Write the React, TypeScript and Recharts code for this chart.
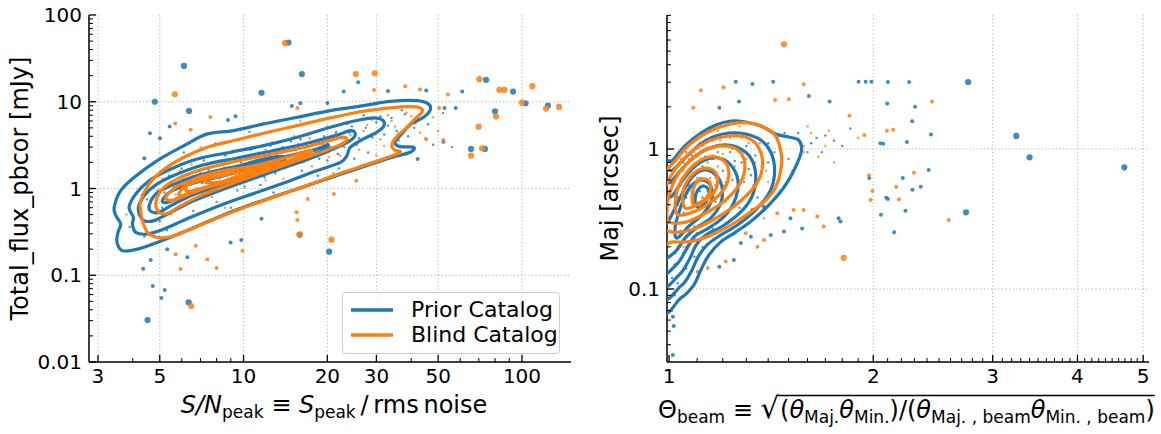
import React, { useLayoutEffect, useRef, useState } from 'react';
import { ScatterChart, Scatter, XAxis, YAxis, ReferenceLine, Legend } from 'recharts';

const FONT = "'DejaVu Sans', 'Liberation Sans', sans-serif";
const BLUE = '#1f77b4';
const ORANGE = '#ff7f0e';

type Pt = [number, number];

// ---------------- Left panel: axes ----------------
const snDomain: [number, number] = [2.785, 150];
const fluxDomain: [number, number] = [0.01, 100];
const snMajor = [3, 5, 10, 20, 30, 50, 100];
const snMinor = [4, 6, 7, 8, 9, 40, 60, 70, 80, 90];
const fluxMajor = [0.01, 0.1, 1, 10, 100];
const fluxMinor = [0.02, 0.03, 0.04, 0.05, 0.06, 0.07, 0.08, 0.09, 0.2, 0.3, 0.4, 0.5, 0.6, 0.7, 0.8, 0.9, 2, 3, 4, 5, 6, 7, 8, 9, 20, 30, 40, 50, 60, 70, 80, 90];
const snGrid = [3, 5, 10, 20, 30, 50, 100];
const fluxGrid = [0.1, 1, 10];

// ---------------- Left panel: KDE contours (S/N, flux) ----------------
const priorContoursLeft: Pt[][] = [
  [[3.43, 0.607], [3.62, 0.945], [4.05, 1.35], [4.9, 2.1], [6.11, 3.12], [7.41, 4.26], [9.23, 4.65], [11.8, 5.55], [15.6, 6.63], [20.5, 7.91], [27, 9.03], [33.6, 10.1], [41.9, 10.3], [46.1, 9.44], [46.8, 8.05], [44.3, 6.63], [39.7, 5.45], [37, 4.26], [35, 3.41], [36.5, 3.04], [40.8, 2.99], [39.7, 2.62], [33.6, 2.25], [25.5, 1.68], [19.4, 1.25], [14.7, 0.928], [11.2, 0.693], [8.5, 0.499], [6.46, 0.341], [4.9, 0.239], [4.16, 0.2], [3.67, 0.192], [3.51, 0.239], [3.54, 0.312], [3.62, 0.39], [3.48, 0.487]],
  [[3.88, 0.607], [4.1, 0.865], [4.58, 1.23], [5.48, 1.68], [6.82, 2.19], [8.98, 2.62], [11.8, 3.12], [15.6, 3.9], [20.5, 5.08], [25.5, 6.07], [29.3, 6.51], [31.7, 6.07], [31.8, 5.17], [30.1, 4.45], [27, 3.73], [24.2, 2.99], [23.5, 2.39], [22.3, 2.0], [18.4, 1.61], [14.7, 1.23], [11.2, 0.904], [8.5, 0.663], [6.46, 0.466], [5.18, 0.341], [4.52, 0.299], [4.1, 0.312], [3.99, 0.39], [4.02, 0.466]],
  [[4.19, 0.607], [4.39, 0.827], [4.9, 1.13], [5.78, 1.47], [7.21, 1.88], [9.49, 2.25], [12.5, 2.69], [16.5, 3.26], [21.4, 4.07], [24.2, 4.65], [25.2, 4.26], [24.2, 3.57], [21.7, 2.99], [18.4, 2.39], [14.7, 1.84], [11.2, 1.35], [8.5, 0.987], [6.64, 0.725], [5.48, 0.531], [4.77, 0.426], [4.39, 0.426], [4.25, 0.487]],
  [[4.58, 0.634], [4.84, 0.865], [5.48, 1.08], [6.64, 1.37], [8.5, 1.68], [11.2, 2.0], [14.7, 2.39], [18.4, 2.86], [20.05, 3.2], [19.7, 2.86], [17.4, 2.39], [13.95, 1.84], [10.6, 1.41], [8.05, 1.06], [6.46, 0.827], [5.48, 0.634], [4.97, 0.531], [4.64, 0.546]],
  [[5.11, 0.725], [5.48, 0.928], [6.46, 1.13], [8.05, 1.35], [10.0, 1.61], [12.5, 2.0], [13.95, 2.19], [13.6, 1.92], [11.5, 1.61], [8.98, 1.25], [7.21, 0.987], [5.95, 0.792], [5.33, 0.693]],
  [[9.49, 1.76], [11.2, 2.1], [13.2, 2.33], [14.1, 2.29], [13.6, 2.06], [11.5, 1.84], [9.89, 1.65]],
];
const blindContoursLeft: Pt[][] = [
  [[4.27, 0.725], [4.58, 1.13], [5.11, 1.61], [6.11, 2.29], [7.41, 2.99], [9.23, 3.57], [11.8, 4.33], [15.6, 5.31], [20.5, 6.51], [27, 7.77], [33.6, 8.49], [39.7, 8.79], [43.1, 8.49], [43.7, 7.57], [41.3, 6.34], [38.1, 4.86], [35.5, 3.96], [34.1, 3.2], [34.8, 2.78], [36.5, 2.69], [35.5, 2.5], [29.3, 2.0], [22.3, 1.5], [16.9, 1.08], [12.8, 0.792], [9.75, 0.581], [7.62, 0.426], [6.28, 0.327], [5.48, 0.278], [4.9, 0.273], [4.52, 0.312], [4.33, 0.426], [4.27, 0.556]],
  [[4.84, 0.693], [5.11, 0.987], [5.78, 1.29], [7.01, 1.64], [8.98, 2.0], [11.8, 2.39], [15.6, 2.86], [19.4, 3.41], [22.6, 3.9], [23.5, 3.63], [22.3, 3.2], [19.4, 2.69], [15.6, 2.1], [11.8, 1.54], [8.98, 1.13], [7.01, 0.827], [5.95, 0.634], [5.33, 0.517], [4.97, 0.531]],
  [[5.25, 0.792], [5.7, 1.03], [6.46, 1.23], [8.05, 1.5], [10.3, 1.76], [13.2, 2.13], [16.5, 2.62], [17.6, 2.74], [16.9, 2.46], [13.95, 2.0], [10.6, 1.54], [8.27, 1.18], [6.64, 0.904], [5.78, 0.757], [5.48, 0.725]],
  [[5.86, 0.865], [6.2, 1.08], [7.21, 1.27], [8.98, 1.47], [11.2, 1.68], [13.2, 1.97], [13.75, 1.88], [12.5, 1.68], [10.0, 1.37], [8.05, 1.13], [6.64, 0.945], [6.03, 0.827]],
  [[6.2, 0.987], [6.64, 1.29], [8.05, 1.54], [10.3, 1.76], [12.15, 1.88], [12.5, 1.73], [11.2, 1.5], [8.98, 1.23], [7.41, 1.03], [6.46, 0.928]],
  [[7.31, 1.25], [7.83, 1.5], [8.98, 1.65], [10.6, 1.73], [11.25, 1.64], [10.9, 1.45], [9.49, 1.28], [8.05, 1.18], [7.41, 1.17]],
];

// ---------------- Left panel: sources ----------------
const priorBrightLeft: Pt[] = [[14.5, 48.2], [6.11, 25.9], [16.2, 20.9], [11.6, 12.7], [4.8, 10.0], [6.37, 7.83], [4.52, 0.0304], [6.35, 0.0486], [20.3, 0.187], [15.9, 0.293], [74.3, 17.9], [92.9, 13.1], [103, 9.61], [124, 9.04], [80, 7.77], [73.6, 2.86], [65.6, 2.86]];
const blindBrightLeft: Pt[] = [[14.1, 47.3], [5.66, 12.2], [25.3, 20.9], [29.6, 21.3], [70.3, 18.2], [83, 13.7], [86.5, 13.7], [100, 9.78], [109, 15.1], [122, 8.34], [136, 8.71], [80.7, 6.74], [71.9, 2.91], [65.6, 2.39], [69.9, 5.16], [15.9, 0.296], [20.7, 0.257], [6.49, 0.0441]];
const priorDotsLeft: Pt[] = [[4.61, 4.34], [5.01, 3.79], [4.4, 2.23], [5.43, 5.17], [8.79, 6.17], [9.36, 6.81], [14.9, 8.96], [16.0, 9.61], [20.0, 9.7], [22.9, 13.1], [33.0, 13.3], [45.3, 13.5], [61.0, 13.1], [57.8, 8.49], [52.2, 3.47], [42.2, 2.19], [11.6, 0.449], [9.81, 0.255], [4.64, 0.15], [4.36, 0.119], [5.32, 0.2], [6.28, 0.161], [8.98, 0.239], [52.7, 8.49], [25.8, 16.8], [4.72, 0.075], [5.07, 0.0545], [5.21, 0.0675]];
const blindDotsLeft: Pt[] = [[5.68, 5.6], [6.46, 4.77], [7.6, 6.68], [15.6, 8.49], [29.4, 13.7], [43.0, 13.8], [38.1, 15.1], [54.2, 12.1], [50.4, 8.49], [52.2, 3.63], [45.3, 3.69], [5.7, 0.175], [6.73, 0.219], [7.41, 0.152], [5.94, 0.118], [25.4, 1.23], [21.1, 0.865], [17.0, 0.757], [15.5, 0.531], [15.6, 0.433], [8.0, 0.121], [9.91, 0.192]];
const priorCloudLeft: Pt[] = [[4.2, 0.5], [4.5, 0.75], [4.8, 1.1], [5.0, 0.42], [5.2, 0.9], [5.4, 1.4], [5.6, 0.65], [5.8, 1.05], [6.0, 1.7], [6.2, 0.8], [6.4, 1.25], [6.6, 0.55], [6.8, 1.0], [7.0, 1.5], [7.2, 2.1], [7.4, 0.9], [7.6, 1.2], [7.8, 1.8], [8.0, 0.7], [8.3, 1.4], [8.6, 2.4], [8.9, 1.1], [9.2, 1.7], [9.5, 0.95], [9.8, 2.0], [10.2, 1.3], [10.6, 2.8], [11.0, 1.6], [11.5, 1.1], [12.0, 2.2], [12.5, 3.1], [13.0, 1.5], [13.5, 2.6], [14.0, 1.9], [14.8, 3.5], [15.5, 2.3], [16.2, 1.6], [17.0, 4.1], [18.0, 2.7], [19.0, 3.3], [20.0, 2.1], [21.5, 4.5], [23.0, 3.0], [24.5, 5.2], [26.0, 3.8], [28.0, 2.6], [30.0, 5.8], [32.0, 4.2], [34.0, 6.5], [36.0, 3.6], [38.0, 7.2], [41.0, 5.0], [44.0, 8.1], [48.0, 3.2], [52.0, 7.4], [56.0, 3.0], [3.9, 0.36], [4.4, 0.28], [5.3, 0.33], [6.1, 2.6], [7.9, 3.3], [9.0, 0.6], [12.8, 0.9], [16.5, 5.6], [22.0, 1.7], [27.0, 7.0], [10.5, 4.5], [14.5, 1.2], [18.5, 1.4], [25.0, 2.2],
  [5.1, 0.6], [5.5, 1.15], [5.9, 0.72], [6.3, 1.45], [6.7, 0.78], [7.1, 1.15], [7.5, 1.65], [7.9, 1.0], [8.4, 1.9], [8.8, 1.3], [9.3, 2.2], [9.7, 1.45], [10.1, 1.05], [10.8, 1.9], [11.3, 2.6], [11.9, 1.35], [12.6, 1.8], [13.2, 2.4], [13.8, 3.0], [14.6, 2.0], [15.3, 2.9], [16.0, 3.7], [16.8, 2.5], [17.6, 3.2], [18.7, 2.2], [19.5, 4.0], [20.6, 3.0], [21.8, 2.5], [22.5, 3.8], [24.0, 4.4], [25.5, 3.2], [27.5, 5.0], [29.0, 3.9], [31.0, 6.8], [33.0, 5.3], [35.5, 4.6], [37.0, 8.0], [39.0, 4.0], [42.5, 6.2], [46.0, 5.5]];
const blindCloudLeft: Pt[] = [[4.6, 0.6], [4.9, 0.95], [5.1, 1.3], [5.5, 0.5], [5.7, 0.85], [5.9, 1.6], [6.1, 1.1], [6.3, 0.7], [6.5, 1.9], [6.7, 1.35], [6.9, 0.95], [7.1, 2.3], [7.3, 1.15], [7.5, 1.6], [7.7, 0.8], [8.0, 2.0], [8.2, 1.3], [8.5, 1.75], [8.8, 1.0], [9.1, 2.6], [9.4, 1.45], [9.7, 2.1], [10.0, 1.2], [10.4, 1.8], [10.8, 3.0], [11.2, 1.4], [11.7, 2.4], [12.2, 1.7], [12.7, 3.4], [13.3, 2.0], [13.9, 1.3], [14.5, 2.8], [15.2, 4.0], [15.9, 2.2], [16.8, 3.1], [17.6, 1.8], [18.6, 4.6], [19.6, 2.9], [20.8, 3.7], [22.2, 2.4], [23.6, 5.5], [25.2, 3.4], [27.0, 4.6], [29.0, 6.2], [31.0, 3.7], [33.0, 7.0], [35.0, 5.2], [37.5, 3.0], [40.0, 6.8], [43.0, 4.4], [46.0, 7.6], [50.0, 4.6], [3.8, 0.5], [4.3, 0.85], [6.0, 0.42], [7.0, 3.0], [8.6, 0.6], [11.0, 4.2], [13.0, 0.85], [16.0, 6.0], [21.0, 1.5], [26.0, 7.8], [30.0, 2.4], [12.0, 2.8], [9.6, 3.6], [20.0, 5.2],
  [5.3, 0.75], [5.6, 1.05], [6.0, 1.4], [6.4, 0.9], [6.8, 1.6], [7.2, 1.05], [7.6, 1.35], [8.1, 1.6], [8.5, 1.2], [8.9, 2.0], [9.3, 1.6], [9.8, 1.35], [10.3, 2.3], [10.9, 1.55], [11.4, 2.0], [12.0, 1.25], [12.6, 2.2], [13.1, 1.6], [13.7, 2.6], [14.3, 1.9], [15.0, 2.4], [15.7, 3.3], [16.4, 2.0], [17.3, 3.8], [18.2, 2.6], [19.2, 3.3], [20.3, 2.3], [21.4, 4.3], [22.8, 3.1], [24.2, 4.1], [26.0, 2.8], [27.8, 5.4], [29.8, 4.2], [32.0, 3.1], [34.0, 6.0], [36.0, 4.3], [38.5, 7.5], [41.5, 5.6], [45.0, 3.8], [48.0, 6.6]];

// ---------------- Right panel: axes ----------------
const thetaDomain: [number, number] = [0.993, 5.1];
const majDomain: [number, number] = [0.0301, 9.06];
const thetaMajor = [1, 2, 3, 4, 5];
const thetaMinor = [1.1, 1.2, 1.3, 1.4, 1.5, 1.6, 1.7, 1.8, 1.9, 2.1, 2.2, 2.3, 2.4, 2.5, 2.6, 2.7, 2.8, 2.9, 3.1, 3.2, 3.3, 3.4, 3.5, 3.6, 3.7, 3.8, 3.9, 4.1, 4.2, 4.3, 4.4, 4.5, 4.6, 4.7, 4.8, 4.9];
const majMajor = [0.1, 1];
const majMinor = [0.04, 0.05, 0.06, 0.07, 0.08, 0.09, 0.2, 0.3, 0.4, 0.5, 0.6, 0.7, 0.8, 0.9, 2, 3, 4, 5, 6, 7, 8, 9];
const thetaGrid = [2, 3, 4, 5];
const majGrid = [0.1, 1];

// ---------------- Right panel: KDE contours (Theta_beam, Maj) ----------------
const priorContoursRight: Pt[][] = [
  [[0.973, 0.0756], [1.041, 0.0863], [1.088, 0.107], [1.114, 0.137], [1.145, 0.175], [1.192, 0.217], [1.254, 0.255], [1.328, 0.311], [1.412, 0.411], [1.485, 0.553], [1.541, 0.769], [1.568, 0.984], [1.552, 1.16], [1.5, 1.218], [1.436, 1.28], [1.365, 1.46], [1.297, 1.56], [1.233, 1.585], [1.172, 1.484], [1.114, 1.301], [1.059, 1.068], [1.0136, 0.835], [0.973, 0.652]],
  [[0.973, 0.0936], [1.041, 0.105], [1.077, 0.132], [1.103, 0.169], [1.137, 0.206], [1.192, 0.243], [1.267, 0.291], [1.351, 0.379], [1.412, 0.51], [1.431, 0.708], [1.412, 0.952], [1.365, 1.16], [1.297, 1.28], [1.225, 1.301], [1.16, 1.218], [1.107, 1.068], [1.0556, 0.862], [1.0136, 0.708], [0.973, 0.6]],
  [[0.973, 0.112], [1.0344, 0.126], [1.07, 0.161], [1.096, 0.206], [1.133, 0.243], [1.2, 0.282], [1.276, 0.355], [1.328, 0.469], [1.342, 0.652], [1.32, 0.862], [1.267, 1.017], [1.2, 1.068], [1.137, 1.0], [1.085, 0.862], [1.041, 0.708], [1.0068, 0.581], [0.973, 0.493]],
  [[0.973, 0.134], [1.0274, 0.151], [1.063, 0.196], [1.092, 0.239], [1.145, 0.273], [1.212, 0.338], [1.254, 0.447], [1.263, 0.6], [1.233, 0.769], [1.184, 0.862], [1.129, 0.835], [1.085, 0.732], [1.048, 0.6], [1.0136, 0.469], [0.973, 0.379]],
  [[0.973, 0.164], [1.0205, 0.184], [1.0556, 0.231], [1.096, 0.273], [1.152, 0.321], [1.192, 0.411], [1.196, 0.544], [1.168, 0.663], [1.126, 0.708], [1.085, 0.641], [1.0556, 0.526], [1.0274, 0.405], [1.0, 0.311], [0.973, 0.255]],
  [[1.0274, 0.231], [1.07, 0.282], [1.122, 0.343], [1.156, 0.432], [1.152, 0.544], [1.122, 0.6], [1.085, 0.562], [1.0556, 0.462], [1.0344, 0.355], [1.0205, 0.273]],
  [[1.107, 0.379], [1.137, 0.432], [1.145, 0.501], [1.126, 0.544], [1.103, 0.51], [1.092, 0.432]],
];
const blindContoursRight: Pt[][] = [
  [[0.973, 0.224], [1.0136, 0.217], [1.085, 0.22], [1.172, 0.251], [1.267, 0.311], [1.374, 0.411], [1.436, 0.535], [1.465, 0.769], [1.46, 0.984], [1.436, 1.238], [1.388, 1.413], [1.32, 1.534], [1.233, 1.509], [1.141, 1.323], [1.07, 1.068], [1.024, 0.835], [0.973, 0.581]],
  [[0.973, 0.287], [1.0136, 0.255], [1.077, 0.264], [1.16, 0.311], [1.254, 0.398], [1.342, 0.553], [1.374, 0.769], [1.351, 1.051], [1.297, 1.218], [1.225, 1.238], [1.145, 1.141], [1.077, 0.952], [1.024, 0.732], [0.99, 0.553], [0.973, 0.469]],
  [[1.0, 0.301], [1.059, 0.301], [1.133, 0.349], [1.212, 0.432], [1.276, 0.581], [1.293, 0.794], [1.263, 0.984], [1.2, 1.051], [1.133, 0.984], [1.077, 0.835], [1.0274, 0.641], [1.0, 0.469], [0.993, 0.367]],
  [[1.0274, 0.343], [1.085, 0.355], [1.152, 0.418], [1.208, 0.526], [1.225, 0.685], [1.2, 0.835], [1.145, 0.877], [1.092, 0.781], [1.048, 0.621], [1.024, 0.469]],
  [[1.0556, 0.379], [1.107, 0.405], [1.16, 0.477], [1.18, 0.6], [1.16, 0.708], [1.114, 0.72], [1.074, 0.631], [1.048, 0.493]],
  [[1.085, 0.405], [1.126, 0.432], [1.152, 0.518], [1.141, 0.6], [1.107, 0.6], [1.085, 0.51]],
];

// ---------------- Right panel: sources ----------------
const priorBrightRight: Pt[] = [[2.76, 3.01], [3.25, 1.24], [3.4, 0.872], [4.69, 0.74], [2.74, 0.353]];
const blindBrightRight: Pt[] = [[1.477, 5.6], [1.809, 0.167]];
const priorDotsRight: Pt[] = [[1.254, 3.02], [1.327, 2.91], [1.424, 3.02], [1.903, 3.02], [1.949, 3.02], [1.987, 3.02], [2.102, 3.01], [2.259, 3.01], [1.186, 1.97], [1.268, 2.18], [1.607, 2.39], [1.725, 2.18], [2.097, 2.11], [2.305, 2.0], [2.282, 1.58], [2.433, 1.27], [2.069, 1.09], [2.242, 1.12], [2.414, 0.708], [2.211, 0.621], [1.973, 0.621], [2.285, 0.512], [2.35, 0.538], [2.09, 0.449], [2.102, 0.439], [2.053, 0.339], [2.231, 0.362], [2.147, 0.254], [2.048, 1.098], [1.013, 0.0634], [1.016, 0.0544], [1.013, 0.0338], [1.327, 0.367], [1.379, 0.387], [1.412, 0.243], [1.32, 0.236], [1.276, 0.213], [1.186, 0.144], [1.246, 0.161], [1.778, 0.32], [1.789, 0.303], [1.571, 0.271], [1.477, 0.257], [1.51, 0.32]];
const blindDotsRight: Pt[] = [[1.086, 1.97], [1.114, 2.63], [1.203, 2.76], [1.58, 2.9], [1.433, 2.24], [1.502, 2.27], [1.845, 1.73], [1.94, 1.26], [2.095, 1.35], [2.14, 1.37], [2.442, 2.18], [2.296, 0.677], [1.971, 0.649], [2.162, 0.535], [1.995, 0.501], [1.982, 0.432], [2.182, 0.437], [2.584, 0.311], [1.14, 0.141], [1.102, 0.133], [1.212, 0.157], [1.35, 0.2], [1.297, 0.25], [1.38, 0.224], [1.444, 0.347], [1.526, 0.367], [1.579, 0.367], [1.654, 0.329], [1.69, 0.279]];
const priorCloudRight: Pt[] = [[1.02, 0.15], [1.03, 0.2], [1.01, 0.12], [1.04, 0.26], [1.05, 0.35], [1.06, 0.45], [1.07, 0.55], [1.08, 0.3], [1.09, 0.65], [1.1, 0.4], [1.11, 0.5], [1.12, 0.75], [1.13, 0.35], [1.14, 0.6], [1.15, 0.45], [1.16, 0.85], [1.17, 0.55], [1.18, 0.3], [1.2, 0.7], [1.21, 0.42], [1.23, 0.95], [1.24, 0.6], [1.26, 0.5], [1.28, 0.8], [1.3, 1.05], [1.32, 0.65], [1.34, 0.9], [1.37, 0.75], [1.4, 1.1], [1.43, 0.95], [1.02, 0.09], [1.01, 0.07], [1.03, 0.11], [1.05, 0.18], [1.07, 0.22], [1.1, 0.25], [1.12, 0.2], [1.06, 0.14], [1.15, 1.0], [1.19, 1.2], [1.25, 1.3], [1.08, 0.9], [1.04, 0.7], [1.35, 0.45], [1.45, 0.6], [1.5, 0.85], [1.55, 1.15], [1.6, 0.95], [1.48, 1.3], [1.65, 1.2], [1.55, 1.3], [1.62, 1.1], [1.7, 1.25], [1.8, 1.05], [1.85, 1.4], [1.68, 0.95], [1.75, 1.15],
  [1.02, 0.3], [1.03, 0.45], [1.04, 0.6], [1.05, 0.8], [1.06, 0.95], [1.07, 0.38], [1.08, 0.5], [1.09, 0.28], [1.1, 0.78], [1.11, 0.62], [1.12, 0.45], [1.13, 0.88], [1.14, 0.4], [1.15, 0.7], [1.17, 0.42], [1.18, 0.95], [1.2, 0.55], [1.22, 0.62], [1.25, 0.82], [1.27, 0.38], [1.29, 0.58], [1.31, 0.72], [1.36, 0.62], [1.4, 0.8], [1.02, 0.18], [1.04, 0.13], [1.06, 0.2], [1.09, 0.17], [1.13, 0.23], [1.16, 0.27]];
const blindCloudRight: Pt[] = [[1.03, 0.4], [1.04, 0.55], [1.05, 0.7], [1.06, 0.3], [1.07, 0.85], [1.08, 0.5], [1.09, 0.95], [1.1, 0.62], [1.11, 0.38], [1.12, 1.05], [1.13, 0.72], [1.14, 0.5], [1.16, 0.9], [1.17, 0.62], [1.19, 1.15], [1.2, 0.45], [1.22, 0.8], [1.24, 1.0], [1.26, 0.65], [1.28, 1.2], [1.3, 0.85], [1.33, 0.55], [1.36, 1.1], [1.39, 0.7], [1.42, 0.92], [1.02, 0.25], [1.05, 0.2], [1.08, 0.26], [1.15, 0.3], [1.22, 0.35], [1.3, 0.4], [1.38, 0.32], [1.46, 0.5], [1.52, 0.7], [1.58, 0.95], [1.62, 1.3], [1.7, 1.05], [1.75, 0.8], [1.18, 1.35], [1.27, 1.45], [1.6, 1.45], [1.72, 1.35], [1.9, 1.2], [1.58, 1.05], [1.66, 0.88],
  [1.02, 0.45], [1.03, 0.65], [1.04, 0.85], [1.05, 0.5], [1.06, 1.0], [1.07, 0.6], [1.08, 0.75], [1.09, 0.42], [1.1, 0.88], [1.11, 1.1], [1.12, 0.55], [1.14, 0.8], [1.15, 0.62], [1.17, 1.05], [1.18, 0.75], [1.2, 0.92], [1.21, 0.58], [1.23, 1.2], [1.25, 0.75], [1.27, 0.95], [1.29, 0.62], [1.31, 1.1], [1.34, 0.8], [1.37, 0.95], [1.4, 0.58]];

const legendItems = [
  { label: 'Prior Catalog', color: BLUE },
  { label: 'Blind Catalog', color: ORANGE },
];

// ---------------- helpers ----------------
const toRows = (pts: Pt[]) => pts.map(([x, y]) => ({ x, y }));
const NoShape = () => null;
const dot = (r: number, color: string, op: number) => (p: any) =>
  p && p.cx != null ? <circle cx={p.cx} cy={p.cy} r={r} fill={color} fillOpacity={op} /> : null;

// closed Catmull-Rom interpolation (passes through every contour vertex)
const catmullRomClosed = (context: any) => {
  let pts: number[][] = [];
  return {
    areaStart() {},
    areaEnd() {},
    lineStart() {
      pts = [];
    },
    point(x: number, y: number) {
      pts.push([+x, +y]);
    },
    lineEnd() {
      const n = pts.length;
      if (n < 3) return;
      context.moveTo(pts[0][0], pts[0][1]);
      for (let i = 0; i < n; i++) {
        const p0 = pts[(i - 1 + n) % n];
        const p1 = pts[i];
        const p2 = pts[(i + 1) % n];
        const p3 = pts[(i + 2) % n];
        context.bezierCurveTo(
          p1[0] + (p2[0] - p0[0]) / 6,
          p1[1] + (p2[1] - p0[1]) / 6,
          p2[0] - (p3[0] - p1[0]) / 6,
          p2[1] - (p3[1] - p1[1]) / 6,
          p2[0],
          p2[1],
        );
      }
      context.closePath();
    },
  };
};

const fmt = (v: number) => String(v);

type Side = 'bottom' | 'left' | 'top' | 'right';
function makeTick(side: Side, majors: number[], labels: boolean) {
  const Tick = (props: any) => {
    const { x, y, payload } = props;
    const v = Number(payload && payload.value);
    const major = majors.some((m) => Math.abs(m - v) <= m * 1e-6);
    const len = major ? 7 : 4;
    const sw = major ? 1.3 : 1;
    let line = null;
    if (side === 'bottom') line = <line x1={x} y1={y} x2={x} y2={y - len} stroke="#000" strokeWidth={sw} />;
    if (side === 'top') line = <line x1={x} y1={y} x2={x} y2={y + len} stroke="#000" strokeWidth={sw} />;
    if (side === 'left') line = <line x1={x} y1={y} x2={x + len} y2={y} stroke="#000" strokeWidth={sw} />;
    if (side === 'right') line = <line x1={x} y1={y} x2={x - len} y2={y} stroke="#000" strokeWidth={sw} />;
    let label = null;
    if (labels && major) {
      if (side === 'bottom')
        label = (
          <text x={x} y={y + 20.5} textAnchor="middle" fontFamily={FONT} fontSize={20} fill="#000">
            {fmt(v)}
          </text>
        );
      if (side === 'left')
        label = (
          <text x={x - 7} y={y} dy="0.36em" textAnchor="end" fontFamily={FONT} fontSize={20} fill="#000">
            {fmt(v)}
          </text>
        );
    }
    return (
      <g>
        {line}
        {label}
      </g>
    );
  };
  return Tick;
}

const yLabel = (text: string) => (props: any) => {
  const vb = props.viewBox || {};
  const cy = vb.y + vb.height / 2;
  return (
    <text x={28} y={cy} transform={`rotate(-90, 28, ${cy})`} textAnchor="middle" fontFamily={FONT} fontSize={24} fill="#000">
      {text}
    </text>
  );
};

const xLabelLeft = (props: any) => {
  const vb = props.viewBox || {};
  const cx = vb.x + vb.width / 2 + 4;
  const y = vb.y + 51;
  return (
    <text x={cx} y={y} textAnchor="middle" fontFamily={FONT} fontSize={24} fill="#000">
      <tspan fontStyle="italic">S/N</tspan>
      <tspan fontSize={17} dy={5}>peak</tspan>
      <tspan dy={-5}>{' \u2261 '}</tspan>
      <tspan fontStyle="italic">S</tspan>
      <tspan fontSize={17} dy={5}>peak</tspan>
      <tspan dy={-5}>{'\u2009/\u2009rms\u2009noise'}</tspan>
    </text>
  );
};

// right x label: prefix ends at the radical; the radicand is measured for the vinculum
const RadicalLabel = (props: { x0: number; y: number }) => {
  const ref = useRef<SVGTextElement>(null);
  const [w, setW] = useState(365);
  useLayoutEffect(() => {
    if (ref.current) {
      const bb = ref.current.getBBox();
      if (bb && bb.width > 0 && Math.abs(bb.width - w) > 0.5) setW(bb.width);
    }
  });
  const { x0, y } = props;
  return (
    <g>
      <text x={x0} y={y} textAnchor="end" fontFamily={FONT} fontSize={24} fill="#000">
        <tspan>{'\u0398'}</tspan>
        <tspan fontSize={17} dy={5}>beam</tspan>
        <tspan dy={-5}>{' \u2261 '}</tspan>
        <tspan fontSize={29}>{'\u221A'}</tspan>
      </text>
      <text ref={ref} x={x0 + 1} y={y} textAnchor="start" fontFamily={FONT} fontSize={24} fill="#000">
        <tspan>(</tspan>
        <tspan fontStyle="italic">{'\u03B8'}</tspan>
        <tspan fontSize={17} dy={5}>Maj.</tspan>
        <tspan dy={-5} fontStyle="italic">{'\u03B8'}</tspan>
        <tspan fontSize={17} dy={5}>Min.</tspan>
        <tspan dy={-5}>{')/('}</tspan>
        <tspan fontStyle="italic">{'\u03B8'}</tspan>
        <tspan fontSize={17} dy={5}>{'Maj. , beam'}</tspan>
        <tspan dy={-5} fontStyle="italic">{'\u03B8'}</tspan>
        <tspan fontSize={17} dy={5}>{'Min. , beam'}</tspan>
        <tspan dy={-5}>)</tspan>
      </text>
      <line x1={x0 - 1} x2={x0 + 1 + w} y1={y - 22.5} y2={y - 22.5} stroke="#000" strokeWidth={1.3} />
    </g>
  );
};

const xLabelRight = (props: any) => {
  const vb = props.viewBox || {};
  return <RadicalLabel x0={vb.x + 112} y={vb.y + 56} />;
};

const renderLegend = () => (
  <div
    style={{
      boxSizing: 'border-box',
      width: 218,
      height: 62,
      border: '1px solid #cccccc',
      borderRadius: 4,
      background: 'rgba(255,255,255,0.8)',
      fontFamily: FONT,
      fontSize: 22,
      padding: '4px 0 0 8px',
      color: '#000',
    }}
  >
    {legendItems.map((it) => (
      <div key={it.label} style={{ display: 'flex', alignItems: 'center', height: 25 }}>
        <svg width={42} height={10} style={{ display: 'block' }}>
          <line x1={0} y1={5} x2={42} y2={5} stroke={it.color} strokeWidth={3.5} />
        </svg>
        <span style={{ marginLeft: 18, lineHeight: '25px', whiteSpace: 'nowrap' }}>{it.label}</span>
      </div>
    ))}
  </div>
);

const AXIS_LINE = { stroke: '#000', strokeWidth: 1.5 };
const GRID = { stroke: '#b0b0b0', strokeWidth: 1, strokeDasharray: '1.2 2.4' };
const CONTOUR_W = 3.2;

function Panel(props: {
  width: number;
  margin: any;
  yWidth: number;
  xDomain: [number, number];
  yDomain: [number, number];
  xMajor: number[];
  xMinor: number[];
  yMajor: number[];
  yMinor: number[];
  xGrid: number[];
  yGrid: number[];
  priorContours: Pt[][];
  blindContours: Pt[][];
  priorBright: Pt[];
  blindBright: Pt[];
  priorDots: Pt[];
  blindDots: Pt[];
  priorCloud: Pt[];
  blindCloud: Pt[];
  xLabel: any;
  yLabelText: string;
  legend: boolean;
}) {
  const p = props;
  const xTicks = [...p.xMajor, ...p.xMinor].sort((a, b) => a - b);
  const yTicks = [...p.yMajor, ...p.yMinor].sort((a, b) => a - b);
  return (
    <ScatterChart width={p.width} height={434} margin={p.margin}>
      <XAxis
        dataKey="x"
        type="number"
        scale="log"
        domain={p.xDomain}
        allowDataOverflow
        ticks={xTicks}
        interval={0}
        tick={makeTick('bottom', p.xMajor, true)}
        tickLine={false}
        tickSize={0}
        tickMargin={0}
        axisLine={AXIS_LINE}
        height={72}
        label={p.xLabel}
      />
      <XAxis
        xAxisId="top"
        orientation="top"
        dataKey="x"
        type="number"
        scale="log"
        domain={p.xDomain}
        allowDataOverflow
        ticks={xTicks}
        interval={0}
        tick={makeTick('top', p.xMajor, false)}
        tickLine={false}
        tickSize={0}
        tickMargin={0}
        axisLine={AXIS_LINE}
        height={0}
      />
      <YAxis
        dataKey="y"
        type="number"
        scale="log"
        domain={p.yDomain}
        allowDataOverflow
        ticks={yTicks}
        interval={0}
        tick={makeTick('left', p.yMajor, true)}
        tickLine={false}
        tickSize={0}
        tickMargin={0}
        axisLine={AXIS_LINE}
        width={p.yWidth}
        label={yLabel(p.yLabelText)}
      />
      <YAxis
        yAxisId="right"
        orientation="right"
        dataKey="y"
        type="number"
        scale="log"
        domain={p.yDomain}
        allowDataOverflow
        ticks={yTicks}
        interval={0}
        tick={makeTick('right', p.yMajor, false)}
        tickLine={false}
        tickSize={0}
        tickMargin={0}
        axisLine={AXIS_LINE}
        width={0}
      />
      {p.xGrid.map((v) => (
        <ReferenceLine key={'gx' + v} x={v} {...GRID} />
      ))}
      {p.yGrid.map((v) => (
        <ReferenceLine key={'gy' + v} y={v} {...GRID} />
      ))}
      <Scatter data={toRows(p.priorCloud)} fill={BLUE} shape={dot(1.2, BLUE, 0.8)} isAnimationActive={false} />
      <Scatter data={toRows(p.blindCloud)} fill={ORANGE} shape={dot(1.2, ORANGE, 0.8)} isAnimationActive={false} />
      <Scatter data={toRows(p.priorDots)} fill={BLUE} shape={dot(2.0, BLUE, 0.85)} isAnimationActive={false} />
      <Scatter data={toRows(p.blindDots)} fill={ORANGE} shape={dot(2.0, ORANGE, 0.85)} isAnimationActive={false} />
      <Scatter data={toRows(p.priorBright)} fill={BLUE} shape={dot(3.1, BLUE, 0.85)} isAnimationActive={false} />
      <Scatter data={toRows(p.blindBright)} fill={ORANGE} shape={dot(3.1, ORANGE, 0.85)} isAnimationActive={false} />
      {p.priorContours.map((c, i) => (
        <Scatter
          key={'pc' + i}
          data={toRows(c)}
          fill={BLUE}
          strokeWidth={CONTOUR_W}
          shape={NoShape}
          line={{ stroke: BLUE, strokeWidth: CONTOUR_W }}
          lineType="joint"
          lineJointType={catmullRomClosed as any}
          isAnimationActive={false}
        />
      ))}
      {p.blindContours.map((c, i) => (
        <Scatter
          key={'bc' + i}
          data={toRows(c)}
          fill={ORANGE}
          strokeWidth={CONTOUR_W}
          shape={NoShape}
          line={{ stroke: ORANGE, strokeWidth: CONTOUR_W }}
          lineType="joint"
          lineJointType={catmullRomClosed as any}
          isAnimationActive={false}
        />
      ))}
      {p.legend && (
        <Legend
          layout="vertical"
          align="center"
          verticalAlign="middle"
          content={renderLegend}
          wrapperStyle={{ left: 342, top: 292, width: 218, height: 62 }}
        />
      )}
    </ScatterChart>
  );
}

export default function App() {
  return (
    <div style={{ position: 'absolute', left: 0, top: 0, width: 1161, height: 434, background: '#fff', overflow: 'hidden' }}>
      <div style={{ position: 'absolute', left: 0, top: 0 }}>
        <Panel
          width={600}
          margin={{ top: 15, right: 29, bottom: 0, left: 0 }}
          yWidth={89}
          xDomain={snDomain}
          yDomain={fluxDomain}
          xMajor={snMajor}
          xMinor={snMinor}
          yMajor={fluxMajor}
          yMinor={fluxMinor}
          xGrid={snGrid}
          yGrid={fluxGrid}
          priorContours={priorContoursLeft}
          blindContours={blindContoursLeft}
          priorBright={priorBrightLeft}
          blindBright={blindBrightLeft}
          priorDots={priorDotsLeft}
          blindDots={blindDotsLeft}
          priorCloud={priorCloudLeft}
          blindCloud={blindCloudLeft}
          xLabel={xLabelLeft}
          yLabelText="Total_flux_pbcor [mJy]"
          legend
        />
      </div>
      <div style={{ position: 'absolute', left: 590, top: 0 }}>
        <Panel
          width={571}
          margin={{ top: 15, right: 12, bottom: 0, left: 0 }}
          yWidth={77}
          xDomain={thetaDomain}
          yDomain={majDomain}
          xMajor={thetaMajor}
          xMinor={thetaMinor}
          yMajor={majMajor}
          yMinor={majMinor}
          xGrid={thetaGrid}
          yGrid={majGrid}
          priorContours={priorContoursRight}
          blindContours={blindContoursRight}
          priorBright={priorBrightRight}
          blindBright={blindBrightRight}
          priorDots={priorDotsRight}
          blindDots={blindDotsRight}
          priorCloud={priorCloudRight}
          blindCloud={blindCloudRight}
          xLabel={xLabelRight}
          yLabelText="Maj [arcsec]"
          legend={false}
        />
      </div>
    </div>
  );
}
